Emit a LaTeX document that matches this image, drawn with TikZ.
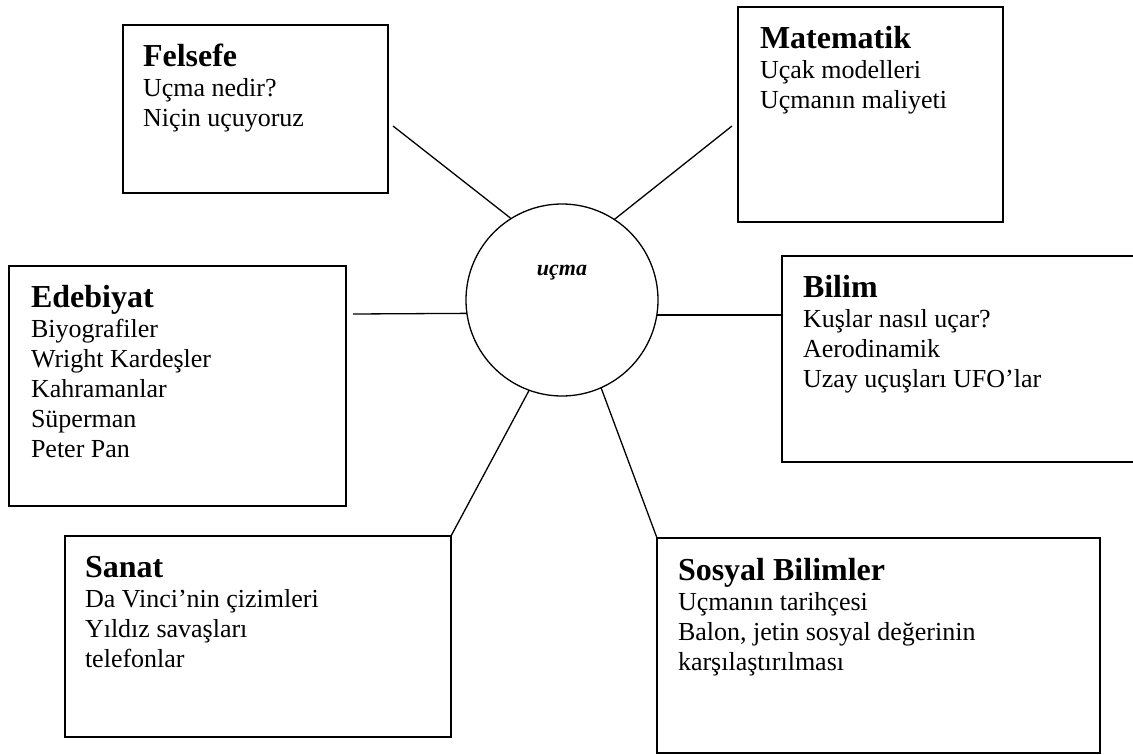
\documentclass[tikz,border=0pt]{standalone}
\usepackage{fontspec}
\setmainfont{Liberation Serif}
\newcommand\boxtext[2]{\parbox[t]{420pt}{\fontsize{32}{32}\selectfont\bfseries #1\par
  \fontsize{26}{30}\selectfont\mdseries #2}}
\begin{document}
\begin{tikzpicture}[x=1pt,y=-1pt,
  box/.style={draw, line width=1.6pt, inner sep=0pt, outer sep=0pt, anchor=north west},
  txt/.style={anchor=base west, inner sep=0pt, outer sep=0pt},
  link/.style={line width=1.3pt}]
\useasboundingbox (0,0) rectangle (1133,755);
% boxes
\node[box, minimum width=265pt, minimum height=168pt] (felsefe) at (123,25) {};
\node[box, minimum width=265pt, minimum height=215pt] (matematik) at (738,7) {};
\node[box, minimum width=337pt, minimum height=240pt] (edebiyat) at (9,266) {};
\node[box, minimum width=360pt, minimum height=206pt] (bilim) at (782,256) {};
\node[box, minimum width=386pt, minimum height=201pt] (sanat) at (65,536) {};
\node[box, minimum width=443pt, minimum height=215pt] (sosyal) at (657,538) {};
% texts
\node[txt] (felsefe-t) at (143,66) {\boxtext{Felsefe}{Uçma nedir?\\Niçin uçuyoruz}};
\node[txt] (matematik-t) at (760,48) {\boxtext{Matematik}{Uçak modelleri\\Uçmanın maliyeti}};
\node[txt] (edebiyat-t) at (31,307) {\boxtext{Edebiyat}{Biyografiler\\Wright Kardeşler\\Kahramanlar\\Süperman\\Peter Pan}};
\node[txt] (bilim-t) at (803,297) {\boxtext{Bilim}{Kuşlar nasıl uçar?\\Aerodinamik\\Uzay uçuşları UFO’lar}};
\node[txt] (sanat-t) at (85,577) {\boxtext{Sanat}{Da Vinci’nin çizimleri\\Yıldız savaşları\\telefonlar}};
\node[txt] (sosyal-t) at (678,580) {\boxtext{Sosyal Bilimler}{Uçmanın tarihçesi\\Balon, jetin sosyal değerinin\\karşılaştırılması}};
% centre
\node[draw, circle, minimum size=192pt, inner sep=0pt, outer sep=0pt, line width=1.3pt] (c) at (562,300) {};
\node[anchor=base, inner sep=0pt, font=\fontsize{22}{24}\selectfont\bfseries\itshape] (lbl) at (562,275) {uçma};
% connectors
\coordinate (fe) at (393,126);
\coordinate (me) at (732,126);
\coordinate (ee) at (353,314);
\draw[link] (fe) -- (c.122);
\draw[link] (me) -- (c.57.5);
\draw[link] (ee) -- (c.188.6);
\draw[link] (c.351.4) -- (c.351.4 -| bilim.west);
\draw[link] (c.250) -- (sanat.north east);
\draw[link] (c.294.5) -- (sosyal.north west);
\end{tikzpicture}
\end{document}
